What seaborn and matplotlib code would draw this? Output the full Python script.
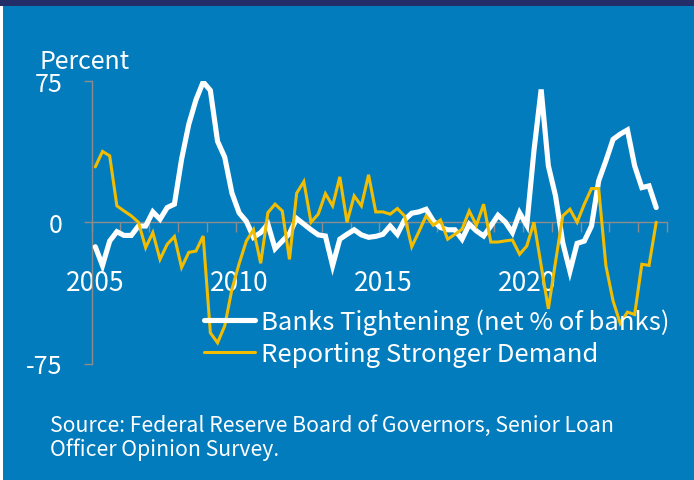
import matplotlib
matplotlib.use("Agg")
import matplotlib.pyplot as plt
from matplotlib.patches import Rectangle
import numpy as np
import pandas as pd
import seaborn as sns

# Quarterly survey results, 2005Q1 - 2024Q3 (net percent of banks)
quarters = pd.period_range("2005Q1", "2024Q3", freq="Q")

tightening = [
    -13, -23, -10, -5, -7, -7, -2, -2, 5.5, 1.6, 7.8, 9.6, 33.5, 52, 65, 74.5,
    70, 43, 34.5, 15.5, 5, 0.5, -8, -5.5, -1, -14, -10, -6, 2, -1, -4, -6.7,
    -7.3, -23, -9, -6.4, -4, -6.7, -8, -7.5, -6.4, -2, -6.4, 1.2, 4.8, 5.5, 6.9, 0.7,
    -2.8, -4, -4, -9, -1, -4.6, -7.3, -2, 3.7, 0.2, -5.5, 5, -1.6, 38, 70.5, 30,
    14, -10.8, -26, -11.2, -10, -2, 22, 32.6, 44, 46.8, 49, 30, 18.4, 19.3, 7.8,
]

demand = [
    29.4, 37.6, 35.3, 8.7, 6, 3.4, 0, -13.5, -5.5, -19.7, -11.7, -7.6, -24, -16, -15.3, -7.3,
    -58.7, -64, -55, -35.6, -22, -10, -4, -21.8, 5.1, 9.6, 6, -19.7, 15.4, 21.6, 0, 4.3,
    15.2, 8.7, 24.1, 0, 14, 8.7, 25.2, 5.5, 5.5, 4.3, 7.3, 3.4, -13, -5, 3.4, -1.6,
    1.2, -9, -6.4, -3.7, 6, -1.6, 9.6, -10.5, -10.5, -9.9, -9.4, -17, -12.6, 0, -23, -46,
    -21, 3.4, 6.9, 0, 9.6, 17.9, 17.9, -23, -41.8, -53.7, -47.7, -49, -22.3, -22.9, 0,
]

series_names = ["Banks Tightening (net % of banks)", "Reporting Stronger Demand"]
labelled_years = [2005, 2010, 2015, 2020]
y_ticks = [75, 0, -75]
y_tick_labels = ["75", "0", "-75"]

BLUE = "#037CBD"
NAVY = "#232E69"
YELLOW = "#F2BD00"
GRAY = "#8C8C8C"
WHITE = "#FFFFFF"

FONT = ["Noto Sans CJK SC", "DejaVu Sans"]

sns.set_style("white")
plt.rcParams["font.family"] = FONT

df = pd.DataFrame({
    "date": quarters.year + (quarters.quarter - 0.5) / 4,
    "tightening": tightening,
    "demand": demand,
})

W, H = 694, 481
fig = plt.figure(figsize=(W / 100, H / 100), dpi=100, facecolor=BLUE)

# banner strip across the top and thin light edge on the left
fig.patches.append(Rectangle((0, 1 - 7 / H), 1, 7 / H, transform=fig.transFigure,
                             facecolor=NAVY, edgecolor="none", zorder=0))
fig.patches.append(Rectangle((0, 0), 3 / W, 1 - 7 / H, transform=fig.transFigure,
                             facecolor=WHITE, edgecolor="none", zorder=0))

left_px, right_px, top_px, bot_px = 91.7, 667, 82, 364.5
ax = fig.add_axes([left_px / W, (H - bot_px) / H,
                   (right_px - left_px) / W, (bot_px - top_px) / H])
ax.set_facecolor("none")

sns.lineplot(data=df, x="date", y="tightening", ax=ax, color=WHITE, linewidth=3.7,
             label=series_names[0], zorder=3, solid_joinstyle="miter")
sns.lineplot(data=df, x="date", y="demand", ax=ax, color=YELLOW, linewidth=2.2,
             label=series_names[1], zorder=4, solid_joinstyle="miter")

ax.set_xlim(2005, 2025)
ax.set_ylim(-75, 75)
ax.set_xlabel("")
ax.set_ylabel("")

for side in ("top", "right"):
    ax.spines[side].set_visible(False)
ax.spines["left"].set_color(GRAY)
ax.spines["left"].set_linewidth(1.0)
ax.spines["bottom"].set_color(GRAY)
ax.spines["bottom"].set_linewidth(1.0)
ax.spines["bottom"].set_position(("data", 0))
ax.spines["bottom"].set_zorder(1)

# yearly tick marks along the zero line
ax.set_xticks(np.arange(2005, 2026, 1))
ax.tick_params(axis="x", which="major", direction="out", length=7.2, width=1.0,
               color=GRAY, labelbottom=False, bottom=True)

ax.set_yticks(y_ticks)
ax.set_yticklabels(y_tick_labels)
ax.tick_params(axis="y", direction="out", length=6, width=1.0, color=GRAY,
               pad=14.9, labelsize=18, labelcolor=WHITE, left=True)

# year captions beneath the zero line, centred on each year's first quarter
for yr in labelled_years:
    ax.text(yr + 0.125, -30.3, str(yr), ha="center", va="center_baseline",
            color=WHITE, fontsize=19, zorder=2)

fig.text(40 / W, 1 - 69.3 / H, "Percent", ha="left", va="baseline", color=WHITE,
         fontsize=18)

leg = ax.legend(loc="center left", bbox_to_anchor=(203.5 / W, 1 - 338.5 / H),
                bbox_transform=fig.transFigure, frameon=False, fontsize=18.5,
                handlelength=2.02, handletextpad=0.2, borderpad=0, borderaxespad=0,
                labelspacing=0.25)
for t in leg.get_texts():
    t.set_color(WHITE)

fig.text(50 / W, 1 - 456 / H,
         "Source: Federal Reserve Board of Governors, Senior Loan\nOfficer Opinion Survey.",
         ha="left", va="baseline", color=WHITE, fontsize=15.3, linespacing=1.1)

fig.savefig("out.png", dpi=100, facecolor=BLUE)
